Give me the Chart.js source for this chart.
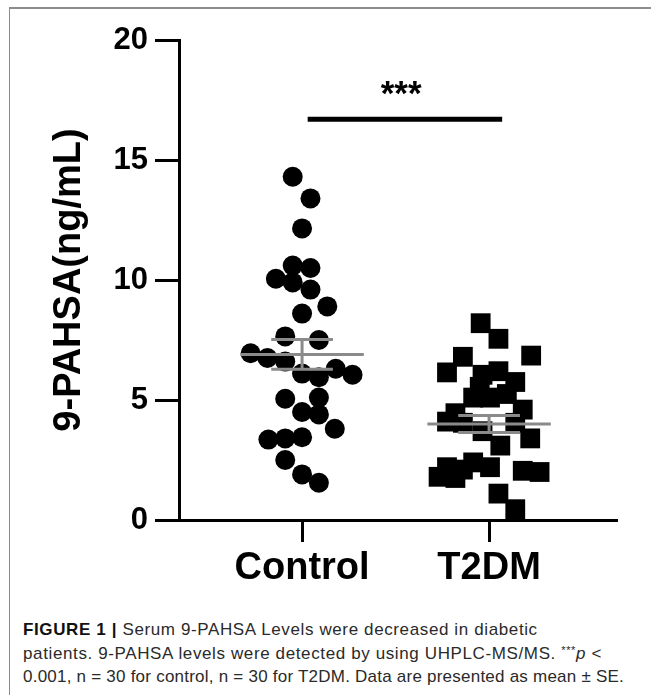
<!DOCTYPE html>
<html>
<head>
<meta charset="utf-8">
<script src="https://cdn.jsdelivr.net/npm/chart.js@4"></script>
<style>
  body { margin: 0; background: #fff; width: 651px; height: 695px; overflow: hidden; }
  #frame { position: absolute; left: 9px; top: 7px; right: 0; bottom: 0;
           border-top: 2px solid #8c8c8c; border-left: 1px solid #8c8c8c; }
  #plot { position: absolute; left: 0; top: 0; }
  #caption { position: absolute; left: 23px; top: 618px; width: 625px;
             font-family: "Liberation Sans", Arial, sans-serif; font-size: 17px;
             line-height: 23.5px; color: #2a2a2a; white-space: nowrap; }
  #caption b { color: #111; }
  #caption sup { font-size: 11px; vertical-align: 5px; line-height: 0; }
</style>
</head>
<body>
<div id="frame"></div>
<canvas id="plot" width="651" height="600"></canvas>
<div id="caption">
  <span style="letter-spacing:0.62px"><b>FIGURE 1 |</b> Serum 9-PAHSA Levels were decreased in diabetic</span><br>
  <span style="letter-spacing:0.62px">patients. 9-PAHSA levels were detected by using UHPLC-MS/MS. <sup>***</sup><i>p</i> &lt;</span><br>
  <span style="letter-spacing:0.23px">0.001, n = 30 for control, n = 30 for T2DM. Data are presented as mean ± SE.</span>
</div>
<script>
// groupes et valeurs
const groups = ["Control", "T2DM"];
const controlValues = [14.3, 13.4, 12.15, 10.6, 10.5, 10.05, 9.9, 9.6, 8.9, 8.6,
                       7.65, 7.5, 6.95, 6.75, 6.6, 6.1, 5.95, 6.3, 6.05, 5.05,
                       5.1, 4.5, 4.4, 3.8, 3.35, 3.4, 3.45, 2.5, 1.9, 1.55];
const controlJitter = [-0.05, 0.045, 0, -0.05, 0.045, -0.14, -0.05, 0.045, 0.135, 0,
                       -0.09, 0.09, -0.275, -0.185, -0.09, 0, 0.09, 0.18, 0.27, -0.09,
                       0.09, 0, 0.09, 0.175, -0.18, -0.09, 0, -0.09, 0, 0.09];
const t2dmValues = [8.2, 7.55, 6.85, 6.8, 6.15, 6.05, 6.2, 5.75, 5.55, 5.1,
                    5.1, 5.25, 4.6, 4.45, 4.1, 4.05, 4.05, 3.7, 3.4, 3.1,
                    2.2, 2.4, 2.1, 2.2, 2.05, 2.0, 1.8, 1.75, 1.1, 0.45];
const t2dmJitter = [-0.045, 0.05, 0.225, -0.14, -0.225, -0.035, 0.05, 0.14, -0.05, -0.085,
                    0.005, 0.095, 0.18, -0.18, -0.225, -0.14, 0.14, -0.035, 0.22, 0.06,
                    -0.225, -0.085, -0.14, 0.005, 0.18, 0.27, -0.27, -0.18, 0.05, 0.14];
const means = [6.9, 4.0];
const errors = [0.62, 0.35];
const yTicks = [0, 5, 10, 15, 20];
const sigLevel = 16.7;   // barre de significativité
const sigText = "***";

const meanHalf = 0.33;
const capHalf = 0.165;
const grey = "#8a8a8a";

function toPoints(values, jitter, pos) {
    return values.map((v, i) => ({ x: pos + jitter[i], y: v }));
}

// segments moyenne ± SE (y: null = coupure)
const errPoints = [];
means.forEach((m, i) => {
    const pos = i + 1;
    const gap = { x: pos, y: null };
    errPoints.push({ x: pos - meanHalf, y: m }, { x: pos + meanHalf, y: m }, gap);
    errPoints.push({ x: pos, y: m - errors[i] }, { x: pos, y: m + errors[i] }, gap);
    errPoints.push({ x: pos - capHalf, y: m + errors[i] }, { x: pos + capHalf, y: m + errors[i] }, gap);
    errPoints.push({ x: pos - capHalf, y: m - errors[i] }, { x: pos + capHalf, y: m - errors[i] }, gap);
});

const sigPlugin = {
    id: "sig",
    afterDraw(chart) {
        const { ctx, scales } = chart;
        const x1 = scales.x.getPixelForValue(1.03);
        const x2 = scales.x.getPixelForValue(2.07);
        const y = scales.y.getPixelForValue(sigLevel);
        ctx.save();
        ctx.strokeStyle = "#000";
        ctx.lineWidth = 5;
        ctx.beginPath();
        ctx.moveTo(x1, y);
        ctx.lineTo(x2, y);
        ctx.stroke();
        ctx.fillStyle = "#000";
        ctx.font = "bold 35px 'Liberation Sans', Arial, sans-serif";
        ctx.textAlign = "center";
        ctx.textBaseline = "alphabetic";
        ctx.fillText(sigText, scales.x.getPixelForValue(1.53), scales.y.getPixelForValue(17.3));
        ctx.restore();
    }
};

new Chart(document.getElementById("plot"), {
    type: "scatter",
    data: {
        datasets: [
            {
                label: "SE",
                type: "line",
                data: errPoints,
                borderColor: grey,
                borderWidth: 3,
                pointRadius: 0,
                spanGaps: false,
                fill: false,
                order: 0,
            },
            {
                label: groups[0],
                data: toPoints(controlValues, controlJitter, 1),
                pointStyle: "circle",
                pointRadius: 10,
                backgroundColor: "#000",
                borderWidth: 0,
                order: 1,
            },
            {
                label: groups[1],
                data: toPoints(t2dmValues, t2dmJitter, 2),
                pointStyle: "rect",
                pointRadius: 14,
                backgroundColor: "#000",
                borderWidth: 0,
                order: 1,
            },
        ],
    },
    options: {
        responsive: false,
        animation: false,
        layout: { padding: { left: 44, top: 40, right: 34, bottom: 0 } },
        plugins: {
            legend: { display: false },
            tooltip: { enabled: false },
        },
        scales: {
            x: {
                type: "linear",
                min: 0.342,
                max: 2.684,
                afterBuildTicks: (scale) => { scale.ticks = [{ value: 1 }, { value: 2 }]; },
                afterFit: (scale) => { scale.height = 80; },
                border: { display: true, color: "#000", width: 3 },
                grid: { drawOnChartArea: false, drawTicks: true, tickLength: 22, tickWidth: 3, tickColor: "#000" },
                ticks: {
                    callback: (v) => groups[v - 1],
                    color: "#000",
                    padding: 4,
                    maxRotation: 0,
                    font: { family: "'Liberation Sans', Arial, sans-serif", size: 38, weight: "bold" },
                },
            },
            y: {
                min: 0,
                max: 20,
                afterBuildTicks: (scale) => { scale.ticks = yTicks.map(v => ({ value: v })); },
                afterFit: (scale) => { scale.width = 135; },
                border: { display: true, color: "#000", width: 3 },
                grid: { drawOnChartArea: false, drawTicks: true, tickLength: 24, tickWidth: 3, tickColor: "#000" },
                ticks: {
                    color: "#000",
                    padding: 7,
                    font: { family: "'Liberation Sans', Arial, sans-serif", size: 31, weight: "bold" },
                },
                title: {
                    display: true,
                    text: "9-PAHSA(ng/mL)",
                    color: "#000",
                    padding: { top: 3, bottom: 0 },
                    font: { family: "'Liberation Sans', Arial, sans-serif", size: 38, weight: "bold" },
                },
            },
        },
    },
    plugins: [sigPlugin],
});
</script>
</body>
</html>
